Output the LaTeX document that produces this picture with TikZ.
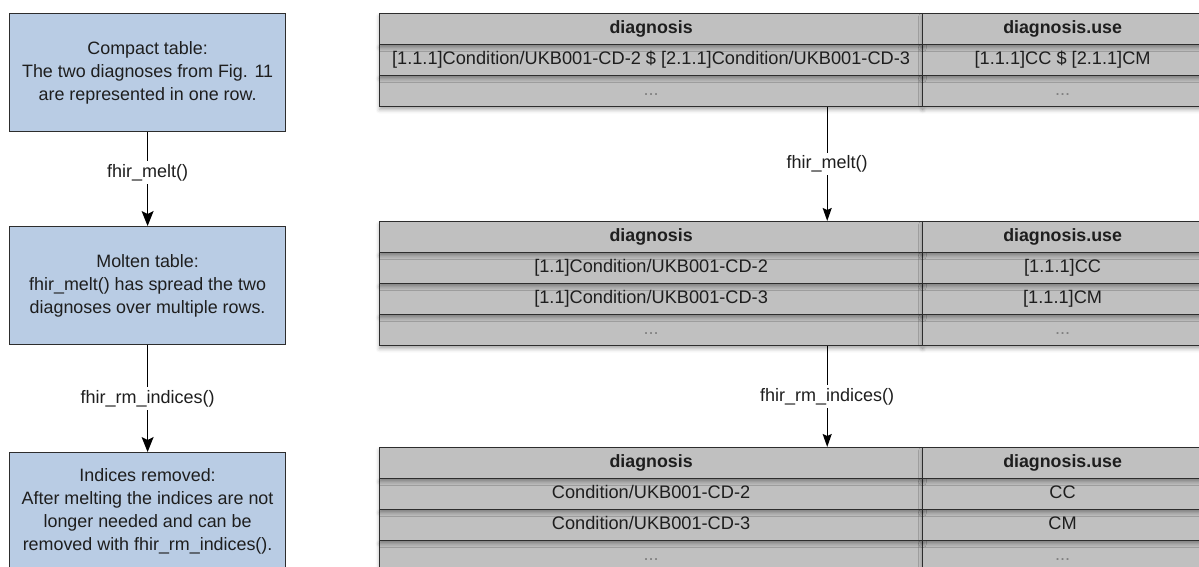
\documentclass[tikz,border=0pt]{standalone}
\usepackage{fontspec}
\setmainfont{Liberation Sans}
\usetikzlibrary{arrows.meta,shadows.blur}

\definecolor{boxblue}{RGB}{185,204,228}
\definecolor{cellgray}{RGB}{192,192,192}
\definecolor{edgegray}{RGB}{45,45,45}
\definecolor{inkgray}{RGB}{30,30,30}

\tikzset{
  stepnote/.style={draw=edgegray, fill=boxblue, line width=1.2pt, minimum width=276pt,
    minimum height=118pt, inner sep=0pt, align=center, anchor=north west,
    text=inkgray, font=\fontsize{17.9}{23}\selectfont},
  cell/.style={draw=edgegray, fill=cellgray, line width=1.2pt, minimum height=31pt,
    inner sep=0pt, text height=13pt, text depth=4pt, anchor=north west, text=inkgray,
    font=\fontsize{18.2}{20}\selectfont,
    blur shadow={shadow xshift=0pt, shadow yshift=-3pt, shadow blur radius=4pt, shadow opacity=35}},
  headcell/.style={cell, font=\fontsize{17.8}{20}\selectfont\bfseries},
  wide/.style={minimum width=543pt},
  narrow/.style={minimum width=280pt},
  fname/.style={fill=white, inner sep=3pt, text=inkgray, font=\fontsize{18}{20}\selectfont},
}

\begin{document}
\begin{tikzpicture}[x=1pt, y=1pt, line width=1.3pt]
\useasboundingbox (0,0) rectangle (1199,-567);

% left column: what happens to the table
\node[stepnote] (compact) at (9,-13) {Compact table:\\The two diagnoses from Fig. 11\\are represented in one row.};
\node[stepnote] (molten) at (9,-226) {Molten table:\\fhir\_melt() has spread the two\\diagnoses over multiple rows.};
\node[stepnote] (removed) at (9,-452) {Indices removed:\\After melting the indices are not\\longer needed and can be\\removed with fhir\_rm\_indices().};
\draw[-{Stealth[length=15pt,width=12pt,inset=3pt]}] (compact) -- node[fname, pos=.43]{fhir\_melt()} (molten);
\draw[-{Stealth[length=15pt,width=12pt,inset=3pt]}] (molten) -- node[fname]{fhir\_rm\_indices()} (removed);

% table 1 (compact)
\foreach \i/\a/\b in {2/{\textcolor{gray}{...}}/{\textcolor{gray}{...}},
  1/{[1.1.1]Condition/UKB001-CD-2 \$ [2.1.1]Condition/UKB001-CD-3}/{[1.1.1]CC \$ [2.1.1]CM}}{
	\node[cell, wide] (t1c1r\i) at (379,-13-31*\i) {\a};
	\node[cell, narrow] (t1c2r\i) at (922,-13-31*\i) {\b};
	}
\node[headcell, wide] (t1c1h) at (379,-13) {diagnosis};
\node[headcell, narrow] (t1c2h) at (922,-13) {diagnosis.use};

% table 2 (molten)
\foreach \i/\a/\b in {3/{\textcolor{gray}{...}}/{\textcolor{gray}{...}},
  2/{[1.1]Condition/UKB001-CD-3}/{[1.1.1]CM},
  1/{[1.1]Condition/UKB001-CD-2}/{[1.1.1]CC}}{
	\node[cell, wide] (t2c1r\i) at (379,-221-31*\i) {\a};
	\node[cell, narrow] (t2c2r\i) at (922,-221-31*\i) {\b};
	}
\node[headcell, wide] (t2c1h) at (379,-221) {diagnosis};
\node[headcell, narrow] (t2c2h) at (922,-221) {diagnosis.use};

% table 3 (indices removed)
\foreach \i/\a/\b in {3/{\textcolor{gray}{...}}/{\textcolor{gray}{...}},
  2/{Condition/UKB001-CD-3}/{CM},
  1/{Condition/UKB001-CD-2}/{CC}}{
	\node[cell, wide] (t3c1r\i) at (379,-447-31*\i) {\a};
	\node[cell, narrow] (t3c2r\i) at (922,-447-31*\i) {\b};
	}
\node[headcell, wide] (t3c1h) at (379,-447) {diagnosis};
\node[headcell, narrow] (t3c2h) at (922,-447) {diagnosis.use};

\draw[-{Stealth[length=13pt,width=9pt,inset=2pt]}] ([xshift=-96pt]t1c1r2.south east) -- node[fname]{fhir\_melt()} ([xshift=-96pt]t2c1h.north east);
\draw[-{Stealth[length=13pt,width=9pt,inset=2pt]}] ([xshift=-96pt]t2c1r3.south east) -- node[fname]{fhir\_rm\_indices()} ([xshift=-96pt]t3c1h.north east);
\end{tikzpicture}
\end{document}
